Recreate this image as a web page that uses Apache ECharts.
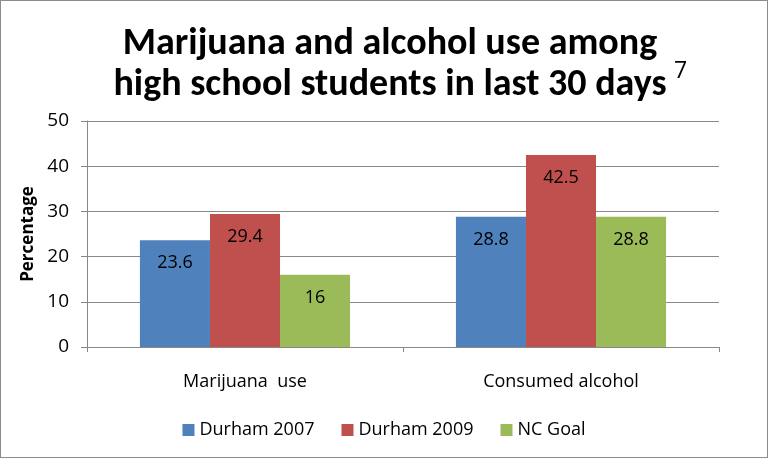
<!DOCTYPE html>
<html><head><meta charset="utf-8">
<script src="https://cdn.jsdelivr.net/npm/echarts@6/dist/echarts.min.js"></script>
<style>
html,body{margin:0;padding:0;background:#fff;}
#c{position:absolute;left:0;top:0;width:766px;height:456px;border:1px solid #8c8c8c;}
</style></head>
<body><div id="c"></div>
<script>
const categories = ['Marijuana  use', 'Consumed alcohol'];
const durham2007 = [23.6, 28.8];
const durham2009 = [29.4, 42.5];
const ncGoal = [16, 28.8];
const yTicks = [0, 10, 20, 30, 40, 50];

const FONT = '"Open Sans", sans-serif';
const TFONT = 'Carlito, Lato, sans-serif';
const chart = echarts.init(document.getElementById('c'), null, {renderer: 'canvas'});
const lbl = {show: true, position: 'insideTop', distance: 14, color: '#000', fontSize: 18, fontFamily: FONT};
function ser(name, data, color) {
  return {name, type: 'bar', data, barGap: '0%', barCategoryGap: '33.5%',
    itemStyle: {color}, label: lbl};
}
chart.setOption({
  animation: false,
  textStyle: {fontFamily: FONT},
  title: [{
    text: 'Marijuana and alcohol use among\nhigh school students in last 30 days',
    left: 384, top: 18, textAlign: 'center',
    textStyle: {fontSize: 38, fontWeight: 'bold', color: '#000', lineHeight: 41, fontFamily: TFONT}
  }, {
    text: '7', left: 668, top: 54,
    textStyle: {fontSize: 23, fontWeight: 'normal', color: '#000', fontFamily: FONT}
  }],
  grid: {left: 86, right: 48, top: 120, bottom: 110},
  legend: {
    bottom: 13, left: 'center', itemWidth: 12, itemHeight: 12, itemGap: 27,
    icon: 'rect',
    textStyle: {fontSize: 18, color: '#000', fontFamily: FONT}
  },
  xAxis: {
    type: 'category', data: categories,
    axisLine: {lineStyle: {color: '#888'}},
    axisTick: {show: true, length: 5, lineStyle: {color: '#888'}},
    axisLabel: {fontSize: 18, color: '#000', margin: 26, fontFamily: FONT}
  },
  yAxis: {
    type: 'value', min: 0, max: 50, interval: 10,
    name: 'Percentage', nameLocation: 'middle', nameGap: 49,
    nameTextStyle: {fontSize: 17, fontWeight: 'bold', color: '#000', fontFamily: FONT},
    axisLine: {show: true, lineStyle: {color: '#888'}},
    axisTick: {show: true, length: 6, lineStyle: {color: '#888'}},
    axisLabel: {fontSize: 19, color: '#000', margin: 18, fontFamily: FONT,
      formatter: v => yTicks.includes(v) ? String(v) : ''},
    splitLine: {lineStyle: {color: '#888'}}
  },
  series: [
    ser('Durham 2007', durham2007, '#4F81BD'),
    ser('Durham 2009', durham2009, '#C0504D'),
    ser('NC Goal', ncGoal, '#9BBB59')
  ]
});
</script></body></html>
